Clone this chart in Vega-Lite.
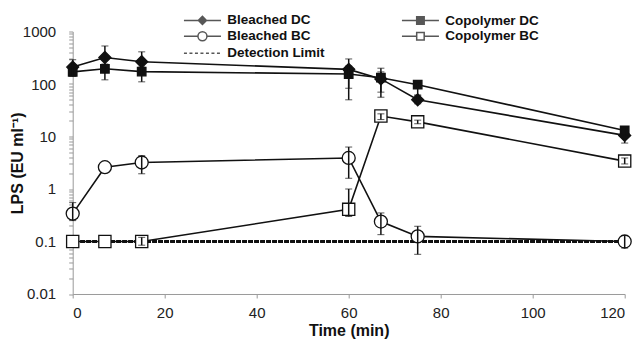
{
  "$schema": "https://vega.github.io/schema/vega-lite/v6.json",
  "width": 552,
  "height": 262.5,
  "autosize": {"type": "none"},
  "padding": {"left": 72.7, "top": 31.5, "right": 15, "bottom": 45},
  "background": "white",
  "config": {
    "font": "Liberation Sans",
    "view": {"stroke": null},
    "axis": {
      "grid": false,
      "domainColor": "#9a9a9a",
      "tickColor": "#9a9a9a",
      "labelColor": "#222222",
      "labelFont": "Liberation Sans",
      "labelFontSize": 15,
      "titleFont": "Liberation Sans",
      "titleFontSize": 16,
      "titleFontWeight": "bold",
      "titleColor": "#111111",
      "tickSize": 4
    }
  },
  "datasets": {
    "obs": [
      {"series": "Bleached DC", "time": 0, "value": 210, "lo": 150, "hi": 290},
      {"series": "Bleached DC", "time": 7, "value": 320, "lo": 200, "hi": 530},
      {"series": "Bleached DC", "time": 15, "value": 265, "lo": 170, "hi": 410},
      {"series": "Bleached DC", "time": 60, "value": 190, "lo": 83, "hi": 300},
      {"series": "Bleached DC", "time": 67, "value": 125, "lo": 70, "hi": 200},
      {"series": "Bleached DC", "time": 75, "value": 50, "lo": 42, "hi": 60},
      {"series": "Bleached DC", "time": 120, "value": 10.5, "lo": 7.5, "hi": 13},
      {"series": "Copolymer DC", "time": 0, "value": 170, "lo": 140, "hi": 200},
      {"series": "Copolymer DC", "time": 7, "value": 195, "lo": 120, "hi": 240},
      {"series": "Copolymer DC", "time": 15, "value": 172, "lo": 110, "hi": 210},
      {"series": "Copolymer DC", "time": 60, "value": 155, "lo": 50, "hi": 220},
      {"series": "Copolymer DC", "time": 67, "value": 132, "lo": 56, "hi": 170},
      {"series": "Copolymer DC", "time": 75, "value": 97, "lo": 62, "hi": 105},
      {"series": "Copolymer DC", "time": 120, "value": 13, "lo": 11, "hi": 15},
      {"series": "Bleached BC", "time": 0, "value": 0.34, "lo": 0.25, "hi": 0.55},
      {"series": "Bleached BC", "time": 7, "value": 2.6, "lo": null, "hi": null},
      {"series": "Bleached BC", "time": 15, "value": 3.2, "lo": 1.95, "hi": 4.3},
      {"series": "Bleached BC", "time": 60, "value": 3.9, "lo": 1.6, "hi": 6.3},
      {"series": "Bleached BC", "time": 67, "value": 0.24, "lo": 0.135, "hi": 0.35},
      {"series": "Bleached BC", "time": 75, "value": 0.125, "lo": 0.057, "hi": 0.195},
      {"series": "Bleached BC", "time": 120, "value": 0.1, "lo": 0.075, "hi": 0.13},
      {"series": "Copolymer BC", "time": 0, "value": 0.1, "lo": null, "hi": null},
      {"series": "Copolymer BC", "time": 7, "value": 0.1, "lo": null, "hi": null},
      {"series": "Copolymer BC", "time": 15, "value": 0.1, "lo": 0.085, "hi": 0.12},
      {"series": "Copolymer BC", "time": 60, "value": 0.41, "lo": 0.3, "hi": 1.0},
      {"series": "Copolymer BC", "time": 67, "value": 24.5, "lo": 21, "hi": 27},
      {"series": "Copolymer BC", "time": 75, "value": 19, "lo": 17.5, "hi": 20.5},
      {"series": "Copolymer BC", "time": 120, "value": 3.4, "lo": 3.0, "hi": 3.9}
    ]
  },
  "data": {"name": "obs"},
  "encoding": {
    "x": {
      "field": "time",
      "type": "quantitative",
      "scale": {"domain": [0, 120], "nice": false, "zero": false},
      "axis": {"title": "Time (min)", "values": [0, 20, 40, 60, 80, 100, 120], "labelPadding": 8, "titlePadding": 2}
    }
  },
  "layer": [
    {
      "mark": {"type": "rule", "color": "#111111", "strokeWidth": 1.3, "strokeDash": [4, 2]},
      "encoding": {"y": {"datum": 0.1, "type": "quantitative", "title": "LPS (EU ml⁻¹)"}, "x": null}
    },
    {
      "mark": {"type": "line", "color": "#111111", "strokeWidth": 1.6},
      "encoding": {
        "y": {
          "field": "value",
          "type": "quantitative",
          "title": "LPS (EU ml⁻¹)",
          "scale": {"type": "log", "domain": [0.01, 1000], "nice": false},
          "axis": {
            "title": "LPS (EU ml⁻¹)",
            "format": "~g",
            "values": [0.01,0.02,0.03,0.04,0.05,0.06,0.07,0.08,0.09,0.1,0.2,0.3,0.4,0.5,0.6,0.7,0.8,0.9,1,2,3,4,5,6,7,8,9,10,20,30,40,50,60,70,80,90,100,200,300,400,500,600,700,800,900,1000],
            "labelExpr": "indexof([0.01,0.1,1,10,100,1000], datum.value) >= 0 ? datum.label : ''",
            "labelPadding": 13,
            "titlePadding": -3
          }
        },
        "detail": {"field": "series", "type": "nominal"},
        "order": {"field": "time", "type": "quantitative"}
      }
    },
    {
      "mark": {"type": "point", "filled": true, "stroke": "#111111", "strokeWidth": 1.3, "opacity": 1, "size": 100},
      "encoding": {
        "y": {"field": "value", "type": "quantitative", "title": "LPS (EU ml⁻¹)"},
        "shape": {
          "field": "series", "type": "nominal",
          "scale": {
            "domain": ["Bleached DC", "Copolymer DC", "Bleached BC", "Copolymer BC"],
            "range": [
              "M-1.2,0L0,-1.2L1.2,0L0,1.2Z",
              "M-0.85,-0.85H0.85V0.85H-0.85Z",
              "M-1.3,0A1.3,1.3 0 1,0 1.3,0A1.3,1.3 0 1,0 -1.3,0Z",
              "M-1.22,-1.22H1.22V1.22H-1.22Z"
            ]
          },
          "legend": null
        },
        "fill": {
          "field": "series", "type": "nominal",
          "scale": {"domain": ["Bleached DC", "Copolymer DC", "Bleached BC", "Copolymer BC"], "range": ["#111111", "#111111", "white", "white"]},
          "legend": null
        }
      }
    },
    {
      "transform": [{"filter": "isValid(datum.lo) && isValid(datum.hi)"}],
      "mark": {"type": "errorbar", "ticks": {"size": 7, "color": "#111111", "strokeWidth": 1.5}, "rule": {"color": "#111111", "strokeWidth": 1.5}},
      "encoding": {
        "y": {"field": "lo", "type": "quantitative", "title": "LPS (EU ml⁻¹)"},
        "y2": {"field": "hi"}
      }
    },
    {
      "data": {"values": []},
      "mark": {"type": "point", "filled": false, "stroke": "#111111", "strokeWidth": 1.5, "size": 100},
      "encoding": {
        "x": null,
        "shape": {
          "field": "series", "type": "nominal",
          "scale": {
            "domain": ["Bleached DC", "Copolymer DC", "Bleached BC", "Copolymer BC", "Detection Limit"],
            "range": [
              "M-3.7,0H-0.8M0.8,0H3.7M-0.8,0L0,-0.8L0.8,0L0,0.8ZM-0.55,0L0,-0.55L0.55,0L0,0.55ZM-0.3,0L0,-0.3L0.3,0L0,0.3ZM-0.1,0H0.1",
              "M-3.7,0H-0.75M0.75,0H3.7M-0.75,-0.75H0.75V0.75H-0.75ZM-0.5,-0.5H0.5V0.5H-0.5ZM-0.25,-0.25H0.25V0.25H-0.25ZM-0.1,0H0.1",
              "M-3.7,0H-0.9M0.9,0H3.7M-0.9,0A0.9,0.9 0 1,0 0.9,0A0.9,0.9 0 1,0 -0.9,0Z",
              "M-3.7,0H-0.75M0.75,0H3.7M-0.75,-0.75H0.75V0.75H-0.75Z",
              "M-3.7,0H-3.1M-2.6,0H-2M-1.5,0H-0.9M-0.4,0H0.2M0.7,0H1.3M1.8,0H2.4M2.9,0H3.5"
            ]
          },
          "legend": {
            "title": null,
            "orient": "none",
            "direction": "horizontal",
            "legendX": 110,
            "legendY": -18,
            "columns": 2,
            "columnPadding": 73,
            "rowPadding": 1,
            "padding": 0,
            "symbolOffset": 13,
            "labelOffset": 18,
            "labelFont": "Liberation Sans",
            "labelFontSize": 13.5,
            "labelFontWeight": "bold",
            "labelColor": "#111111",
            "symbolSize": 100,
            "encode": {
              "symbols": {
                "update": {
                  "stroke": {"value": "#111111"},
                  "strokeWidth": {"value": 1.5},
                  "opacity": {"value": 1}
                }
              }
            }
          }
        }
      }
    }
  ],
  "resolve": {"scale": {"shape": "independent", "fill": "independent"}}
}
